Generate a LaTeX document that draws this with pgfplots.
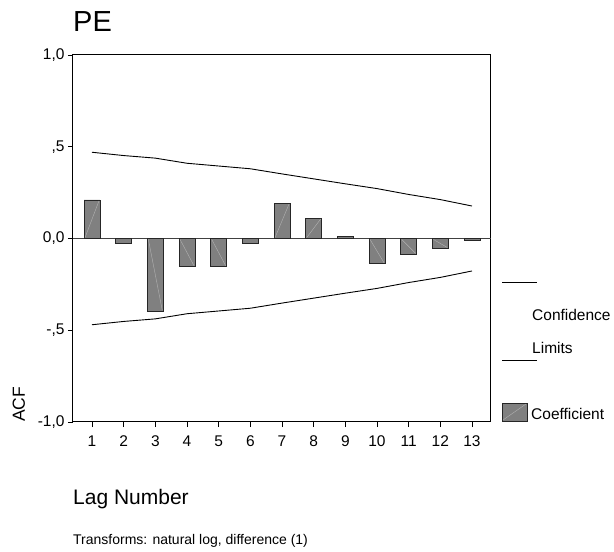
\documentclass[border=0pt]{standalone}
\usepackage{fontspec}
\setmainfont{Liberation Sans}
\usepackage{pgfplots}
\pgfplotsset{compat=1.18}
\colorlet{hatch}{white!40!gray}

\begin{document}
\begin{tikzpicture}[x=1pt,y=1pt]
\path[use as bounding box] (-73,-130) rectangle (541,422);
\begin{axis}[
  at={(0,0)}, anchor=south west,
  scale only axis, width=418pt, height=367pt,
  xmin=0.4, xmax=13.6, ymin=-1, ymax=1,
  xtick={1,...,13},
  ytick={-1,-0.5,0,0.5,1},
  yticklabels={{-1,0},{-,5},{0,0},{,5},{1,0}},
  tick pos=left, tick align=outside,
  major tick length=5pt,
  tick style={black, line width=0.8pt},
  ticklabel style={font=\fontsize{15.5}{18}\selectfont},
  xticklabel style={yshift=-5pt},
  /pgf/number format/assume math mode=true,
  axis line style={line width=1pt},
  clip=false,
]
% zero line
\addplot[black!75, line width=1.2pt, forget plot] coordinates {(0.4,0) (13.6,0)};
% ACF coefficients
\addplot[ybar, bar width=0.5, bar shift=0pt, fill=gray, draw=black!85, line width=0.8pt]
  coordinates {(1,0.210) (2,-0.029) (3,-0.397) (4,-0.153) (5,-0.153) (6,-0.029)
               (7,0.192) (8,0.111) (9,0.012) (10,-0.137) (11,-0.086) (12,-0.054) (13,-0.012)};
% faint diagonal inside each bar
\addplot[hatch, line width=0.4pt, unbounded coords=jump] coordinates {
  (0.78,0.005) (1.22,0.205) (1,nan)
  (6.78,0.005) (7.22,0.187) (7,nan)
  (7.78,0.005) (8.22,0.106) (8,nan)
  (2.78,-0.005) (3.22,-0.392) (3,nan)
  (3.78,-0.005) (4.22,-0.148) (4,nan)
  (4.78,-0.005) (5.22,-0.148) (5,nan)
  (9.78,-0.005) (10.22,-0.132) (10,nan)
  (10.78,-0.005) (11.22,-0.081) (11,nan)
  (11.78,-0.005) (12.22,-0.049)};
% confidence limits
\addplot[black, line width=0.9pt] coordinates {
  (1,0.470) (2,0.452) (3,0.438) (4,0.410) (5,0.395) (6,0.380) (7,0.352)
  (8,0.325) (9,0.298) (10,0.272) (11,0.240) (12,0.212) (13,0.177)};
\addplot[black, line width=0.9pt] coordinates {
  (1,-0.470) (2,-0.452) (3,-0.438) (4,-0.410) (5,-0.395) (6,-0.380) (7,-0.352)
  (8,-0.325) (9,-0.298) (10,-0.272) (11,-0.240) (12,-0.212) (13,-0.177)};
\end{axis}

% title and labels
\node[anchor=base west, inner sep=0, font=\fontsize{29}{32}\selectfont] at (0,390) {PE};
\node[anchor=base west, inner sep=0, rotate=90, font=\fontsize{17.5}{20}\selectfont] at (-48,0) {ACF};
\node[anchor=base west, inner sep=0, font=\fontsize{21}{24}\selectfont] at (0,-83) {Lag Number};
\node[anchor=base west, inner sep=0, font=\fontsize{14}{16}\selectfont] at (0,-123) {Transforms: natural log, difference (1)};

% legend
\draw[line width=0.9pt] (429,140) -- (464,140);
\node[anchor=west, inner sep=0, font=\fontsize{15.5}{18}\selectfont] at (459,107) {Confidence};
\node[anchor=west, inner sep=0, font=\fontsize{15.5}{18}\selectfont] at (459,74) {Limits};
\draw[line width=0.9pt] (429,62) -- (464,62);
\draw[fill=gray, draw=black!85, line width=0.8pt] (429,1) rectangle (454,19);
\draw[hatch, line width=0.4pt] (430,2) -- (453,18);
\node[anchor=base west, inner sep=0, font=\fontsize{15.5}{18}\selectfont] at (458,2) {Coefficient};
\end{tikzpicture}
\end{document}
